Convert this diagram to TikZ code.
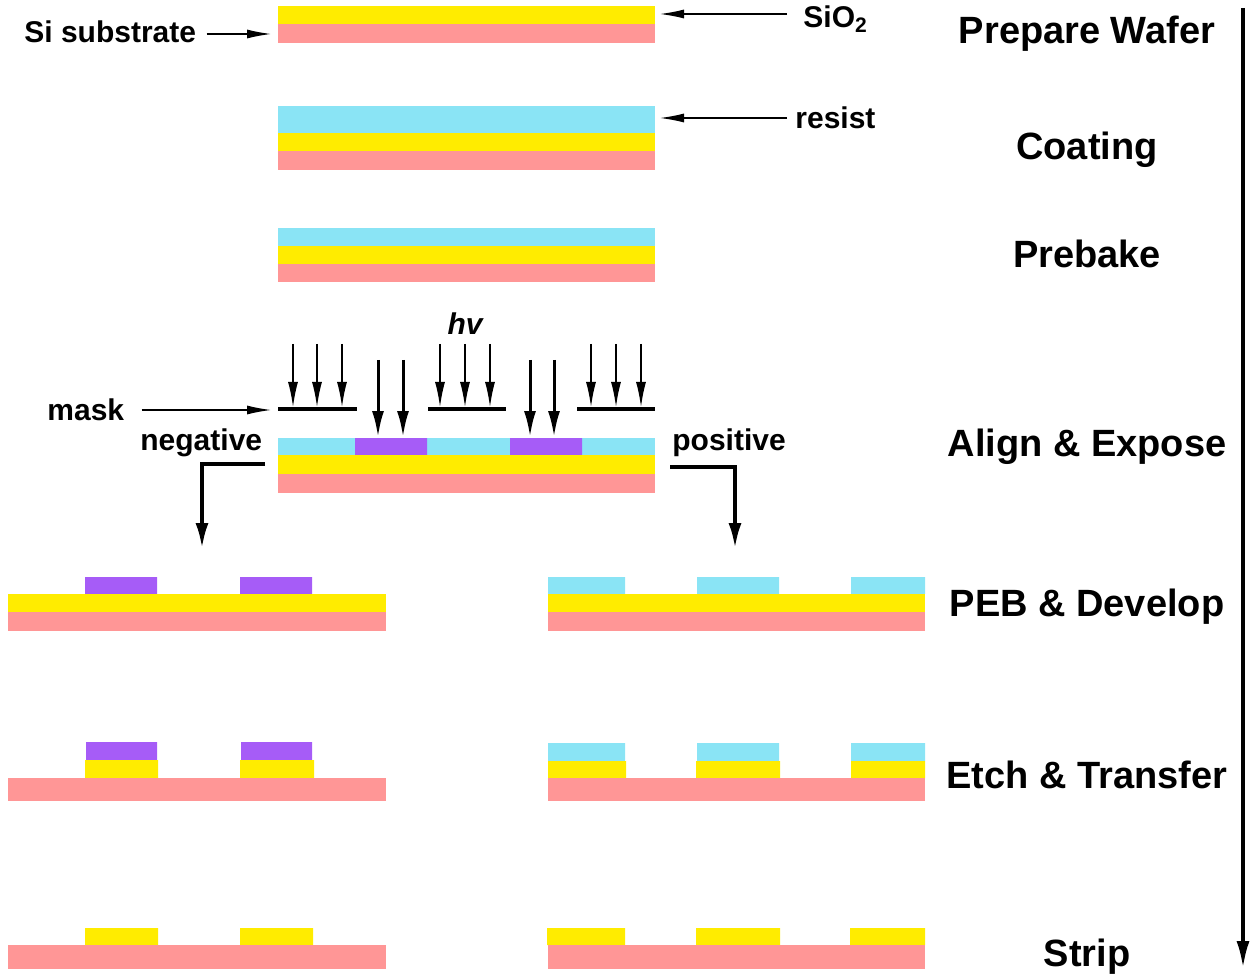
\documentclass[tikz,border=0pt]{standalone}
\usepackage{fontspec}
\setmainfont{Liberation Sans}
\usetikzlibrary{arrows.meta}
\definecolor{sio}{HTML}{FFEC00}
\definecolor{si}{HTML}{FF9696}
\definecolor{res}{HTML}{8AE4F5}
\definecolor{expo}{HTML}{A65CF7}
\begin{document}
\begin{tikzpicture}[x=0.5pt,y=-0.5pt,
 lbl/.style={font=\bfseries\fontsize{15}{18}\selectfont, inner sep=0pt},
 stage/.style={font=\bfseries\fontsize{19}{23}\selectfont, anchor=base, inner sep=0pt},
 pointer/.style={line width=0.6pt,-{Latex[length=12pt,width=4.5pt]}},
 ray/.style={line width=0.7pt,-{Latex[length=12.5pt,width=5pt]}},
 bigray/.style={line width=1.5pt,-{Latex[length=13pt,width=6pt]}},
 branch/.style={line width=2pt,-{Latex[length=13pt,width=6.5pt]}},
 maskbar/.style={line width=2.4pt},
]
\useasboundingbox (0,0) rectangle (1252,978);

% Prepare wafer
\fill[sio] (278,6) rectangle (655,24);
\fill[si] (278,24) rectangle (655,43);
% Coating
\fill[res] (278,106) rectangle (655,133);
\fill[sio] (278,133) rectangle (655,151);
\fill[si] (278,151) rectangle (655,170);
% Prebake
\fill[res] (278,228) rectangle (655,246);
\fill[sio] (278,246) rectangle (655,264);
\fill[si] (278,264) rectangle (655,282);
% Align & expose
\fill[res] (278,438) rectangle (655,455);
\fill[expo] (355,438) rectangle (427,455) (510,438) rectangle (582,455);
\fill[sio] (278,455) rectangle (655,474);
\fill[si] (278,474) rectangle (655,493);
% PEB left
\fill[expo] (85,577) rectangle (157,594) (240,577) rectangle (312,594);
\fill[sio] (8,594) rectangle (386,612);
\fill[si] (8,612) rectangle (386,631);
% PEB right
\fill[res] (548,577) rectangle (625,594) (697,577) rectangle (779,594) (851,577) rectangle (925,594);
\fill[sio] (548,594) rectangle (925,612);
\fill[si] (548,612) rectangle (925,631);
% Etch left
\fill[expo] (86,742) rectangle (157,760) (241,742) rectangle (312,760);
\fill[sio] (85,760) rectangle (158,778) (240,760) rectangle (314,778);
\fill[si] (8,778) rectangle (386,801);
% Etch right
\fill[res] (548,743) rectangle (625,761) (697,743) rectangle (779,761) (851,743) rectangle (925,761);
\fill[sio] (548,761) rectangle (626,778) (696,761) rectangle (780,778) (851,761) rectangle (925,778);
\fill[si] (548,778) rectangle (925,801);
% Strip left
\fill[sio] (85,928) rectangle (158,945) (240,928) rectangle (313,945);
\fill[si] (8,945) rectangle (386,969);
% Strip right
\fill[sio] (547,928) rectangle (625,945) (696,928) rectangle (780,945) (850,928) rectangle (925,945);
\fill[si] (548,945) rectangle (925,969);

% masks
\draw[maskbar] (278,409) -- (357,409);
\draw[maskbar] (428,409) -- (506,409);
\draw[maskbar] (577,409) -- (655,409);

% light rays
\foreach \x in {293,317,342,440,465,490,591,616,641}
  \draw[ray] (\x,344) -- (\x,407);
\foreach \x in {378,403,530,554}
  \draw[bigray] (\x,360) -- (\x,437);

% labels with pointers
\node[lbl, anchor=base west] (sisub) at (24,43) {Si substrate};
\coordinate (sitip) at (271,34);
\draw[pointer, shorten <=5pt] (sisub.east |- sitip) -- (sitip);

\node[lbl, anchor=base west] (sio2) at (803,28) {SiO\textsubscript{2}};
\coordinate (siotip) at (660,14);
\draw[pointer, shorten <=8pt] (sio2.west |- siotip) -- (siotip);

\node[lbl, anchor=base west] (resist) at (795,129) {resist};
\coordinate (restip) at (660,118);
\draw[pointer, shorten <=4pt] (resist.west |- restip) -- (restip);

\node[lbl, anchor=base west] (mask) at (47,421) {mask};
\coordinate (masktip) at (271,410);
\draw[pointer, shorten <=8.5pt] (mask.east |- masktip) -- (masktip);

\node[font={\bfseries\itshape\fontsize{15}{18}\selectfont}, inner sep=0pt, anchor=base] (hv) at (465,335) {hv};

\node[lbl, anchor=base west] (neg) at (140,451) {negative};
\node[lbl, anchor=base west] (pos) at (672,451) {positive};

% branch arrows
\coordinate (negstart) at (265,464);
\coordinate (negend) at (202,549);
\draw[branch] (negstart) -| (negend);
\coordinate (posstart) at (670,467);
\coordinate (posend) at (735,549);
\draw[branch] (posstart) -| (posend);

% stage labels
\node[stage] (s1) at (1087,44) {Prepare Wafer};
\node[stage] (s2) at (1087,160) {Coating};
\node[stage] (s3) at (1087,268) {Prebake};
\node[stage] (s4) at (1087,456) {Align \& Expose};
\node[stage] (s5) at (1087,616) {PEB \& Develop};
\node[stage] (s6) at (1087,788) {Etch \& Transfer};
\node[stage] (s7) at (1087,966) {Strip};

% process flow arrow
\coordinate (flowtop) at (1243,8);
\coordinate (flowbot) at (1243,969);
\draw[line width=2pt,-{Latex[length=14pt,width=6.5pt]}] (flowtop) -- (flowbot);
\end{tikzpicture}
\end{document}
